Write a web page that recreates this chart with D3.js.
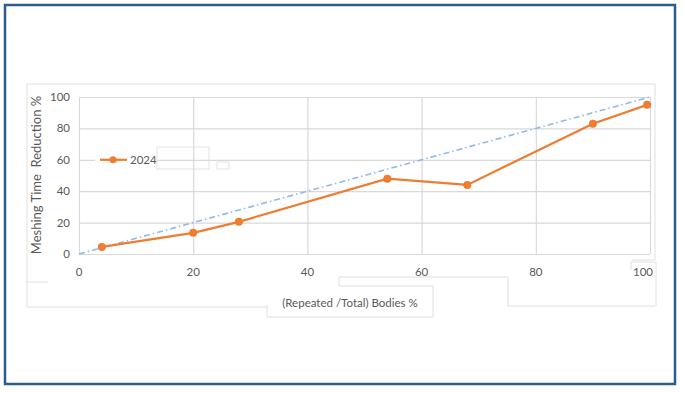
<!DOCTYPE html>
<html>
<head>
<meta charset="utf-8">
<script src="https://cdn.jsdelivr.net/npm/d3@7"></script>
<style>
  body { margin: 0; background: #fff; }
  svg { display: block; }
  text { font-family: Lato, "Open Sans", sans-serif; fill: #595959; }
</style>
</head>
<body>
<svg id="chart" width="683" height="393"></svg>
<script>
// values
const xValues = [4, 20, 28, 54, 68, 90, 99.5];
const yValues = [4.5, 13.5, 20.5, 48, 44, 83, 95];
const seriesName = '2024';
const xTicks = [0, 20, 40, 60, 80, 100];
const yTicks = [0, 20, 40, 60, 80, 100];
const refLine = [[0, 0], [100, 100]];
const xTitle = '(Repeated /Total) Bodies %';
const yTitle = 'Meshing Time  Reduction %';

const svg = d3.select('#chart');
const orange = '#ed7d31';
const grid = '#d9d9d9';

const x = d3.scaleLinear().domain([0, 100]).range([79, 650]);
const y = d3.scaleLinear().domain([0, 100]).range([254, 97]);

// outer blue frame
svg.append('rect')
  .attr('x', 5).attr('y', 5).attr('width', 670).attr('height', 379)
  .attr('fill', 'none').attr('stroke', '#2b5c8f').attr('stroke-width', 2.5);

// pasted chart outline pieces
const outline = [
  [[27, 84], [655, 84], [655, 260], [632, 260]],
  [[27, 84], [27, 307], [267, 307]],
  [[27, 282], [48, 282]],
  [[267, 305], [267, 317], [433, 317], [433, 286], [339, 286], [339, 277], [508, 277], [508, 306], [655, 306]],
  [[631, 270], [631, 262], [656, 262], [656, 306]]
];
svg.append('g').selectAll('path').data(outline).join('path')
  .attr('d', d3.line())
  .attr('fill', 'none').attr('stroke', '#e0e0e0').attr('stroke-width', 1);

// gridlines
const gx = svg.append('g')
  .attr('transform', `translate(0,${y(0)})`)
  .call(d3.axisBottom(x).tickValues(xTicks).tickSize(-(y(0) - y(100))).tickFormat(''));
gx.select('.domain').remove();
gx.selectAll('line').attr('stroke', grid).attr('stroke-width', 1.2);

const gy = svg.append('g')
  .attr('transform', `translate(${x(0)},0)`)
  .call(d3.axisLeft(y).tickValues(yTicks).tickSize(-(x(100) - x(0))).tickFormat(''));
gy.select('.domain').remove();
gy.selectAll('line').attr('stroke', grid).attr('stroke-width', 1.2);

// tick labels
svg.append('g').selectAll('text').data(yTicks).join('text')
  .attr('x', 70).attr('y', d => y(d) + 4)
  .attr('text-anchor', 'end').attr('font-size', 11.5)
  .text(d => d);

svg.append('g').selectAll('text').data(xTicks).join('text')
  .attr('x', d => d === 100 ? 653 : x(d))
  .attr('y', 276)
  .attr('text-anchor', d => d === 100 ? 'end' : 'middle')
  .attr('font-size', 11.5)
  .text(d => d);

// axis titles
svg.append('text')
  .attr('transform', `translate(41,${175}) rotate(-90)`)
  .attr('text-anchor', 'middle').attr('font-size', 13)
  .style('white-space', 'pre')
  .text(yTitle);

svg.append('text')
  .attr('x', 350).attr('y', 307)
  .attr('text-anchor', 'middle').attr('font-size', 11.5)
  .text(xTitle);

// reference diagonal
svg.append('path')
  .datum(refLine)
  .attr('d', d3.line().x(d => x(d[0])).y(d => y(d[1])))
  .attr('fill', 'none').attr('stroke', '#92b9e4').attr('stroke-width', 1.6)
  .attr('stroke-dasharray', '6,3,1.5,3');

// data series
const pts = xValues.map((v, i) => [v, yValues[i]]);
svg.append('path')
  .datum(pts)
  .attr('d', d3.line().x(d => x(d[0])).y(d => y(d[1])))
  .attr('fill', 'none').attr('stroke', orange).attr('stroke-width', 2.2);
svg.append('g').selectAll('circle').data(pts).join('circle')
  .attr('cx', d => x(d[0])).attr('cy', d => y(d[1])).attr('r', 4)
  .attr('fill', orange);

// legend (white patch covers gridline)
const ly = y(60);
svg.append('rect').attr('x', 95).attr('y', ly - 7).attr('width', 62).attr('height', 14).attr('fill', '#fff');
svg.append('line').attr('x1', 100).attr('x2', 127).attr('y1', ly).attr('y2', ly)
  .attr('stroke', orange).attr('stroke-width', 2.2);
svg.append('circle').attr('cx', 113).attr('cy', ly).attr('r', 3.5).attr('fill', orange);
svg.append('text').attr('x', 130).attr('y', ly + 4).attr('font-size', 11.5).text(seriesName);
svg.append('rect').attr('x', 157).attr('y', 147).attr('width', 52).attr('height', 22)
  .attr('fill', 'none').attr('stroke', '#e3e3e3');
svg.append('rect').attr('x', 217).attr('y', 162).attr('width', 12).attr('height', 7)
  .attr('fill', '#fff').attr('stroke', '#e3e3e3');
</script>
</body>
</html>
